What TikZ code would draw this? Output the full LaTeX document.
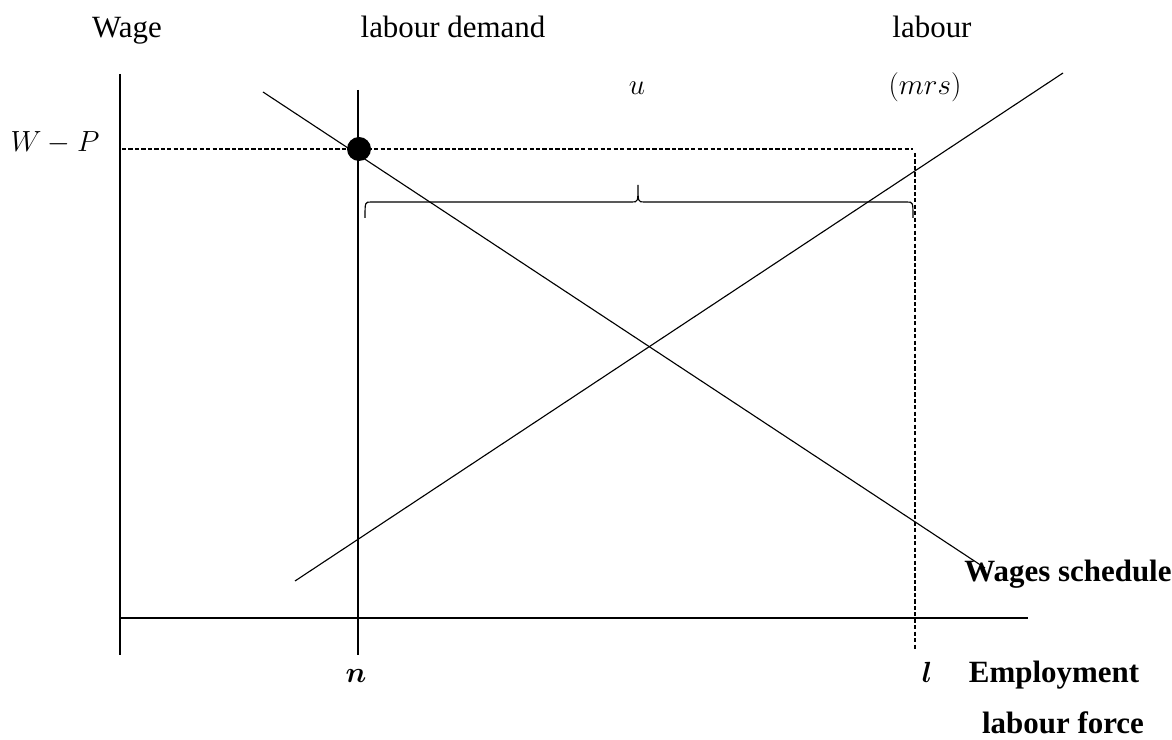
\documentclass[tikz,border=0pt]{standalone}
\usepackage{amsmath}
\usepackage{fontspec}
\setmainfont{Liberation Serif}
\usepackage{tikz}
\usetikzlibrary{positioning}

\begin{document}
\begin{tikzpicture}[x=0.025cm, y=-0.025cm, line width=0.8pt,
    lbl/.style={font=\fontsize{22}{26}\selectfont, inner sep=0pt, anchor=base},
    blbl/.style={lbl, font=\fontsize{22}{26}\selectfont\bfseries},
    guide/.style={dash pattern=on 3pt off 1.6pt}]
    \useasboundingbox (0,0) rectangle (1172,740);

    % Key points
    \coordinate (O) at (120,618);
    \coordinate (ytop) at (120,74);
    \coordinate (ybot) at (120,655);
    \coordinate (xend) at (1028,618);
    \coordinate (ntop) at (358,90);
    \coordinate (nbot) at (358,655);
    \coordinate (dstart) at (263,92);
    \coordinate (dend) at (985,568);
    \coordinate (sstart) at (295,581);
    \coordinate (send) at (1063,73);
    \coordinate (wleft) at (122,149);
    \coordinate (wright) at (913,149);
    \coordinate (ltop) at (915,153);
    \coordinate (lbot) at (915,650);

    % Draw axes
    \draw (ytop) -- (ybot);
    \draw (O) -- (xend);

    % Labour demand line at n
    \draw (ntop) -- (nbot);

    % Wage schedule and labour supply
    \draw (dstart) -- (dend);
    \draw (sstart) -- (send);

    % Dashed guides
    \draw[guide] (wleft) -- (wright);
    \draw[guide] (ltop) -- (lbot);

    % Equilibrium point
    \fill (359,149) circle (12);

    % Brace over u
    \draw (365,218) .. controls (365,202) .. (371,202) -- (632,202)
        .. controls (638,202) .. (638,185) .. controls (638,202) .. (644,202)
        -- (907,202) .. controls (913,202) .. (913,218);

    % Labels
    \node[lbl] (wage) at (127,38) {Wage};
    \node[lbl] (ldemand) at (453,38) {labour demand};
    \node[lbl] (labour) at (932,38) {labour};
    \node[lbl] (u) at (637,95) {$u$};
    \node[lbl] (mrs) at (925,95) {$(mrs)$};
    \node[lbl] (wp) at (55,152) {$W-P$};
    \node[lbl] (n) at (356,683) {$\boldsymbol{n}$};
    \node[lbl] (l) at (927,683) {$\boldsymbol{l}$};
    \node[blbl] (emp) at (1054,683) {Employment};
    \node[blbl] (lforce) at (1063,733) {labour force};
    \node[blbl] (wsched) at (1068,582) {Wages schedule};
\end{tikzpicture}
\end{document}
